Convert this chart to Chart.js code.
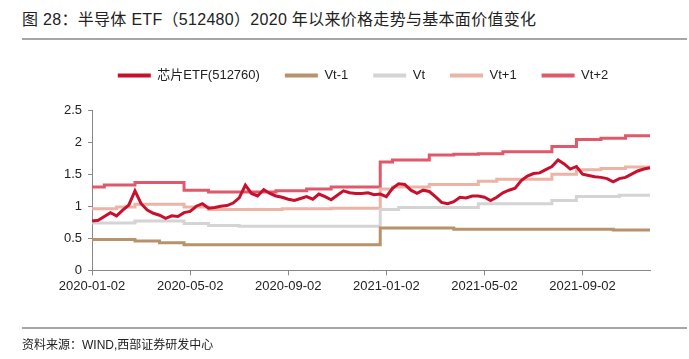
<!DOCTYPE html>
<html>
<head>
<meta charset="utf-8">
<script src="https://cdn.jsdelivr.net/npm/chart.js@4.4.1/dist/chart.umd.min.js"></script>
<style>
  body { margin: 0; width: 689px; height: 359px; position: relative; background: #fff; overflow: hidden;
         font-family: "Liberation Sans", "Noto Sans CJK SC", sans-serif; }
  #titulo { position: absolute; left: 22px; top: 6px; font-size: 16px; color: #222; white-space: nowrap; letter-spacing: 0.3px; }
  .linea { position: absolute; left: 22px; width: 665px; height: 2px; background: #a6a6a6; }
  #fuente { position: absolute; left: 22px; top: 335px; font-size: 12px; color: #222; white-space: nowrap; }
  #grafica { position: absolute; left: 0; top: 0; }
</style>
</head>
<body>
<div id="titulo">图 28：半导体 ETF（512480）2020 年以来价格走势与基本面价值变化</div>
<div class="linea" style="top:38px"></div>
<canvas id="grafica" width="689" height="359"></canvas>
<div class="linea" style="top:327px"></div>
<div id="fuente">资料来源：WIND,西部证券研发中心</div>

<script>
// Fechas: cuatro muestras por mes (días 02, 09, 17, 24), de 2020-01-02 a 2021-11-24
const meses = ['2020-01', '2020-02', '2020-03', '2020-04', '2020-05', '2020-06', '2020-07', '2020-08',
  '2020-09', '2020-10', '2020-11', '2020-12', '2021-01', '2021-02', '2021-03', '2021-04',
  '2021-05', '2021-06', '2021-07', '2021-08', '2021-09', '2021-10', '2021-11'];
const dias = ['02', '09', '17', '24'];
const fechas = [];
meses.forEach(m => dias.forEach(d => fechas.push(m + '-' + d)));

// Etiquetas que se ven en los ejes
const marcasX = ['2020-01-02', '2020-05-02', '2020-09-02', '2021-01-02', '2021-05-02', '2021-09-02'];
const marcasY = ['0', '0.5', '1', '1.5', '2', '2.5'];

const nombres = ['芯片ETF(512760)', 'Vt-1', 'Vt', 'Vt+1', 'Vt+2'];
const colores = ['#c8102e', '#b8926a', '#d4d4d4', '#edb3a5', '#e0596b'];

// Precio del ETF (semanal)
const etf = [
  0.77, 0.78, 0.84, 0.90, 0.85, 0.94, 1.02, 1.24, 1.04, 0.94, 0.89, 0.86, 0.81, 0.85, 0.84, 0.90,
  0.92, 1.00, 1.04, 0.97, 0.98, 1.00, 1.01, 1.05, 1.13, 1.33, 1.20, 1.16, 1.26, 1.20, 1.16, 1.14,
  1.11, 1.09, 1.12, 1.15, 1.11, 1.19, 1.15, 1.10, 1.17, 1.24, 1.21, 1.20, 1.20, 1.21, 1.18, 1.19,
  1.15, 1.28, 1.35, 1.34, 1.25, 1.20, 1.25, 1.23, 1.15, 1.06, 1.04, 1.07, 1.14, 1.13, 1.16, 1.16,
  1.14, 1.09, 1.14, 1.21, 1.25, 1.28, 1.40, 1.47, 1.51, 1.52, 1.57, 1.62, 1.72, 1.66, 1.58, 1.62,
  1.50, 1.48, 1.46, 1.45, 1.43, 1.38, 1.43, 1.45, 1.50, 1.55, 1.58, 1.60
];

// Valores fundamentales (escalonados)
const vtMenos1 = [
  0.48, 0.48, 0.48, 0.48, 0.48, 0.48, 0.48, 0.48, 0.46, 0.46, 0.46, 0.46, 0.43, 0.43, 0.43, 0.43,
  0.40, 0.40, 0.40, 0.40, 0.40, 0.40, 0.40, 0.40, 0.40, 0.40, 0.40, 0.40, 0.40, 0.40, 0.40, 0.40,
  0.40, 0.40, 0.40, 0.40, 0.40, 0.40, 0.40, 0.40, 0.40, 0.40, 0.40, 0.40, 0.40, 0.40, 0.40, 0.40,
  0.66, 0.66, 0.66, 0.66, 0.66, 0.66, 0.66, 0.66, 0.66, 0.66, 0.66, 0.66, 0.64, 0.64, 0.64, 0.64,
  0.64, 0.64, 0.64, 0.64, 0.64, 0.64, 0.64, 0.64, 0.64, 0.64, 0.64, 0.64, 0.64, 0.64, 0.64, 0.64,
  0.64, 0.64, 0.64, 0.64, 0.64, 0.64, 0.63, 0.63, 0.63, 0.63, 0.63, 0.63
];
const vt = [
  0.74, 0.74, 0.74, 0.74, 0.74, 0.74, 0.74, 0.74, 0.77, 0.77, 0.77, 0.77, 0.77, 0.77, 0.77, 0.77,
  0.73, 0.73, 0.73, 0.73, 0.70, 0.70, 0.70, 0.70, 0.70, 0.69, 0.69, 0.69, 0.69, 0.69, 0.69, 0.69,
  0.69, 0.69, 0.69, 0.69, 0.69, 0.69, 0.69, 0.69, 0.69, 0.69, 0.69, 0.69, 0.69, 0.69, 0.69, 0.69,
  0.95, 0.95, 0.95, 0.98, 0.98, 0.98, 0.98, 0.98, 0.98, 0.98, 0.98, 0.98, 0.98, 0.98, 0.98, 0.98,
  1.04, 1.04, 1.04, 1.04, 1.04, 1.04, 1.04, 1.04, 1.04, 1.04, 1.04, 1.04, 1.09, 1.09, 1.09, 1.09,
  1.15, 1.15, 1.15, 1.15, 1.15, 1.15, 1.15, 1.17, 1.17, 1.17, 1.17, 1.17
];
const vtMas1 = [
  0.96, 0.96, 0.96, 0.96, 0.96, 0.99, 0.99, 0.99, 1.03, 1.03, 1.03, 1.03, 1.03, 1.03, 1.03, 1.03,
  0.99, 0.99, 0.99, 0.99, 0.95, 0.95, 0.95, 0.95, 0.95, 0.95, 0.95, 0.95, 0.95, 0.95, 0.95, 0.95,
  0.96, 0.96, 0.96, 0.96, 0.96, 0.96, 0.96, 0.96, 0.97, 0.97, 0.97, 0.97, 0.97, 0.97, 0.97, 0.97,
  1.27, 1.27, 1.30, 1.30, 1.30, 1.30, 1.30, 1.30, 1.34, 1.34, 1.34, 1.34, 1.34, 1.34, 1.34, 1.34,
  1.39, 1.39, 1.39, 1.42, 1.42, 1.42, 1.42, 1.42, 1.42, 1.42, 1.42, 1.42, 1.50, 1.50, 1.50, 1.50,
  1.57, 1.57, 1.57, 1.57, 1.59, 1.59, 1.59, 1.59, 1.61, 1.61, 1.61, 1.61
];
const vtMas2 = [
  1.30, 1.30, 1.30, 1.33, 1.33, 1.33, 1.33, 1.33, 1.37, 1.37, 1.37, 1.37, 1.37, 1.37, 1.37, 1.37,
  1.25, 1.25, 1.25, 1.25, 1.22, 1.22, 1.22, 1.22, 1.22, 1.22, 1.22, 1.22, 1.22, 1.22, 1.22, 1.24,
  1.24, 1.24, 1.24, 1.24, 1.27, 1.27, 1.27, 1.27, 1.30, 1.30, 1.30, 1.30, 1.30, 1.30, 1.30, 1.30,
  1.69, 1.69, 1.72, 1.72, 1.72, 1.72, 1.72, 1.72, 1.80, 1.80, 1.80, 1.80, 1.81, 1.81, 1.81, 1.81,
  1.82, 1.82, 1.82, 1.82, 1.85, 1.85, 1.85, 1.85, 1.85, 1.85, 1.85, 1.85, 1.93, 1.93, 1.93, 1.93,
  2.04, 2.04, 2.04, 2.04, 2.06, 2.06, 2.06, 2.06, 2.10, 2.10, 2.10, 2.10
];

const series = [etf, vtMenos1, vt, vtMas1, vtMas2];
const fuente = { family: '"Liberation Sans", "Noto Sans CJK SC", sans-serif', size: 13 };

const conjuntos = series.map((datos, i) => ({
  label: nombres[i],
  data: datos,
  borderColor: colores[i],
  backgroundColor: colores[i],
  borderWidth: 3,
  pointRadius: 0,
  tension: 0,
  stepped: i === 0 ? false : 'after'
}));

// Deja más espacio bajo la leyenda y la corre un poco a la derecha
const ajusteLeyenda = {
  id: 'ajusteLeyenda',
  beforeInit(chart) {
    const fitOriginal = chart.legend.fit;
    chart.legend.fit = function () {
      fitOriginal.bind(chart.legend)();
      this.height += 18;
    };
  },
  afterLayout(chart) {
    chart.legend.left += 9;
    chart.legend.right += 9;
  }
};

new Chart(document.getElementById('grafica').getContext('2d'), {
  type: 'line',
  data: { labels: fechas, datasets: conjuntos },
  plugins: [ajusteLeyenda],
  options: {
    responsive: false,
    animation: false,
    layout: { padding: { left: 58, right: 39, top: 44, bottom: 62 } },
    plugins: {
      tooltip: { enabled: false },
      legend: {
        position: 'top',
        labels: {
          boxWidth: 33,
          boxHeight: 4,
          padding: 25,
          color: '#222',
          font: fuente,
          // Sin borde en la muestra de la leyenda
          generateLabels: chart => Chart.defaults.plugins.legend.labels.generateLabels(chart)
            .map(l => Object.assign(l, { lineWidth: 0 }))
        }
      }
    },
    scales: {
      x: {
        offset: false,
        grid: { drawOnChartArea: false, drawTicks: true, tickLength: 5, color: '#888' },
        border: { color: '#888' },
        ticks: { autoSkip: false, maxRotation: 0, color: '#222', font: fuente, padding: 3 },
        afterBuildTicks: escala => {
          escala.ticks = escala.ticks.filter(t => marcasX.includes(fechas[t.value]));
        }
      },
      y: {
        min: 0,
        max: 2.5,
        grid: { drawOnChartArea: false, drawTicks: true, tickLength: 4, color: '#888' },
        border: { color: '#888' },
        ticks: { stepSize: 0.5, color: '#222', font: fuente, padding: 6,
                 callback: (v, i) => marcasY[i] }
      }
    }
  }
});
</script>
</body>
</html>
